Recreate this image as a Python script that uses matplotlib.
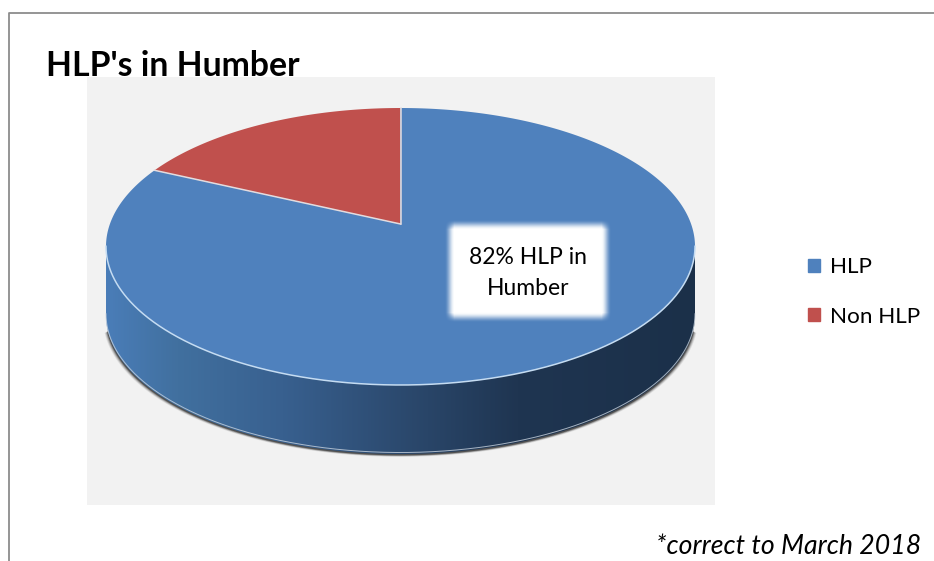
import numpy as np
import matplotlib
matplotlib.use('Agg')
import matplotlib.pyplot as plt
from matplotlib.patches import Polygon, Rectangle
from matplotlib.colors import LinearSegmentedColormap

categories = ['HLP', 'Non HLP']
shares = [82, 18]
colors = ['#4f81bd', '#c0504d']

title = "HLP's in Humber"
callout = '82% HLP in\nHumber'
footnote = '*correct to March 2018'

plt.rcParams['font.family'] = ['Lato', 'DejaVu Sans']

# pie geometry, in picture pixels
cx, apex_y, top_y, bottom_y = 400.5, 224, 108, 385
half_w = 294.5
depth = 69

# perspective squash of the unit circle
c = (bottom_y + top_y - 2*apex_y) / (bottom_y - top_y)
a = (top_y * (1 + c) - apex_y)
k = half_w * np.sqrt(1 - c**2)

def project(theta):
    # theta measured counter-clockwise from 12 o'clock
    u = -np.sin(theta)
    v = np.cos(theta)
    d = 1 + c * v
    return cx + k * u / d, (a * v + apex_y) / d

fig = plt.figure(figsize=(9.34, 5.61), dpi=100)
ax = fig.add_axes([0, 0, 1, 1])
ax.axis('off')

# outer frame, no right side or bottom
ax.plot([8.5, 8.5, 934], [561, 13, 13], color='#8c8c8c', lw=1.3, zorder=1)

ax.text(46, 75.5, title, fontsize=24.3, fontweight='bold', color='black', zorder=1)
ax.add_patch(Rectangle((87, 77), 628, 428, color='#f2f2f2', lw=0, zorder=2))

t = np.linspace(0, 2*np.pi, 1441)
ex, ey = project(t)

# front half of the rim, from the leftmost round to the rightmost point
left_i = np.argmin(ex)
right_i = np.argmax(ex)
front = np.arange(left_i, right_i + 1)
wx = ex[front]
wy = ey[front]

# soft shadow under the side, trimmed so it tapers at both ends
trim = 24
for grow, alpha in zip([3.0, 2.2, 1.4, 0.6], [0.1, 0.18, 0.3, 0.55]):
    ax.fill(cx + (wx[trim:-trim] - cx) * (half_w + grow) / half_w,
            wy[trim:-trim] + depth + 1 + grow * 0.6,
            color='#222222', alpha=alpha, lw=0, zorder=3)

# side wall with left-to-right shading
wall = LinearSegmentedColormap.from_list('wall', [
    (0.0, '#4a7db8'), (0.12, '#41709f'), (0.3, '#38608f'), (0.5, '#2c4a6f'),
    (0.7, '#1f3551'), (1.0, '#1b3049')])
grad = np.linspace(0, 1, 256).reshape(1, -1)
im = ax.imshow(grad, cmap=wall, extent=(cx - half_w, cx + half_w, 470, 100), aspect='auto', zorder=4)
body = Polygon(np.column_stack([np.r_[wx, wx[::-1]], np.r_[wy - 2, wy[::-1] + depth]]),
               transform=ax.transData, fc='none', ec='none')
ax.add_patch(body)
im.set_clip_path(body)

# thin highlight on the lower rim of the side
ax.plot(wx, wy + depth - 1.5, color='#c9d3de', lw=0.7, alpha=0.8, zorder=5)

# top face, drawn from the shares
angles = np.cumsum([0] + shares[::-1]) / sum(shares) * 2*np.pi
for i, share in enumerate(shares[::-1]):
    th = np.linspace(angles[i], angles[i+1], 400)
    sx, sy = project(th)
    ax.add_patch(Polygon(np.column_stack([np.r_[cx, sx], np.r_[apex_y, sy]]),
                         fc=colors[::-1][i], ec='none', zorder=6))
    ax.plot([cx, sx[0]], [apex_y, sy[0]], color='#e3dcdf', lw=1.1, zorder=7)

# light rim on the front of the top face
ax.plot(wx, wy, color='#c5dcf2', lw=1.1, zorder=7)

# blurred white box behind the label
x0, x1, y0, y1 = 448, 607, 223, 318
xx, yy = np.meshgrid(np.arange(x0 - 8, x1 + 8), np.arange(y0 - 8, y1 + 8))
ramp = np.clip((xx - x0 + 4) / 10, 0, 1) * np.clip((x1 + 4 - xx) / 10, 0, 1) \
     * np.clip((yy - y0 + 4) / 10, 0, 1) * np.clip((y1 + 4 - yy) / 10, 0, 1)
rgba = np.ones(ramp.shape + (4,))
rgba[..., 3] = ramp * ramp * (3 - 2 * ramp)
ax.imshow(rgba, extent=(x0 - 8, x1 + 8, y1 + 8, y0 - 8), aspect='auto', zorder=8, interpolation='bilinear')
ax.text(528, 273, callout, ha='center', va='center', fontsize=16.5, linespacing=1.55, color='black', zorder=9)

handles = [Rectangle((0, 0), 1, 1, color=col) for col in colors]
ax.legend(handles, categories, loc='center left', bbox_to_anchor=(803.5 / 934, 1 - 292 / 561),
          frameon=False, fontsize=16.2, handlelength=0.55, handleheight=0.55,
          handletextpad=0.45, labelspacing=1.3, borderpad=0, borderaxespad=0.2)

ax.text(921, 547, footnote, ha='right', va='center', fontsize=19.2, fontstyle='italic', color='black', zorder=9)

ax.set_xlim(0, 934)
ax.set_ylim(561, 0)

fig.savefig('out.png', dpi=100)
